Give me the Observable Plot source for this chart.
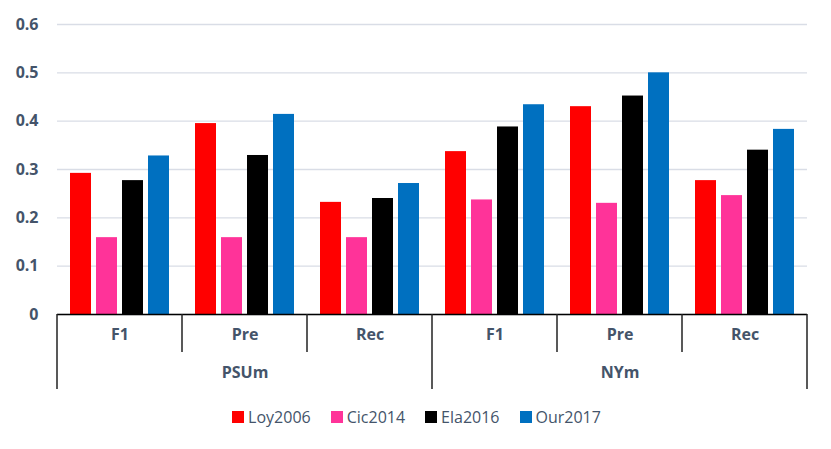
<!DOCTYPE html>
<html><head><meta charset="utf-8">
<script src="https://cdn.jsdelivr.net/npm/d3@7"></script>
<script src="https://cdn.jsdelivr.net/npm/@observablehq/plot@0.6"></script>
<style>
body{margin:0;background:#fff;font-family:"Open Sans",sans-serif}
#legend{display:flex;justify-content:center;align-items:center;margin-top:7px;padding-left:2px;color:#44546a;font-size:16px;height:20px}
.item{display:flex;align-items:center;margin:0 10px}
.sw{width:12px;height:12px;margin-right:4px}
</style>
</head><body><div id="chart"></div><div id="legend"></div>
<script>
const datasets = ["PSUm", "NYm"];
const metrics = ["F1", "Pre", "Rec"];
const methods = ["Loy2006", "Cic2014", "Ela2016", "Our2017"];
const colors = ["#ff0000", "#ff3399", "#000000", "#0070c0"];
// values per group in order PSUm F1, Pre, Rec, NYm F1, Pre, Rec
const loy2006 = [0.292, 0.395, 0.232, 0.337, 0.430, 0.277];
const cic2014 = [0.159, 0.159, 0.159, 0.237, 0.230, 0.246];
const ela2016 = [0.277, 0.329, 0.240, 0.388, 0.452, 0.340];
const our2017 = [0.328, 0.414, 0.271, 0.434, 0.500, 0.383];
const yTicks = [0, 0.1, 0.2, 0.3, 0.4, 0.5, 0.6];

const series = [loy2006, cic2014, ela2016, our2017];
const groups = [];
datasets.forEach(d => metrics.forEach(m => groups.push({key: d + "|" + m, dataset: d, metric: m})));
const rows = [];
groups.forEach((g, i) => methods.forEach((m, j) => rows.push({group: g.key, method: m, value: series[j][i]})));

const chart = Plot.plot({
  width: 831, height: 400,
  marginLeft: 57, marginRight: 24, marginTop: 24, marginBottom: 86,
  style: {fontFamily: "Open Sans, sans-serif", fontSize: "16px", color: "#44546a", overflow: "visible", background: "#fff"},
  fx: {domain: groups.map(g => g.key), padding: 0, axis: null, label: null},
  x: {domain: methods, paddingInner: 0.185, paddingOuter: 0.41, axis: null, label: null},
  y: {domain: [0, 0.6], axis: null, label: null},
  color: {domain: methods, range: colors},
  marks: [
    Plot.gridY(yTicks, {stroke: "#d9dde6", strokeOpacity: 1, strokeWidth: 1.3}),
    Plot.axisY(yTicks, {tickSize: 0, tickPadding: 19, label: null, fontWeight: "bold", fill: "#44546a", tickFormat: d => d === 0 ? "0" : d.toFixed(1)}),
    Plot.barY(rows, {fx: "group", x: "method", y: "value", fill: "method"}),
    Plot.ruleY([0], {stroke: "#000", strokeWidth: 1.6}),
    Plot.text(groups, {fx: "key", text: "metric", frameAnchor: "bottom", dy: 25, fontWeight: "bold", fill: "#44546a"}),
    Plot.text(datasets, {fx: d => d + "|Pre", text: d => d, frameAnchor: "bottom", dy: 63, fontWeight: "bold", fill: "#44546a"})
  ]
});
document.getElementById("chart").appendChild(chart);

// hierarchical category separators, positioned from Plot's own scales
const fxs = chart.scale("fx");
const y0 = chart.scale("y").apply(0);
const svg = d3.select(chart);
const edges = groups.map((g, i) => ({x: fxs.apply(g.key), long: i % 3 === 0}));
edges.push({x: fxs.apply(groups[groups.length - 1].key) + fxs.bandwidth, long: true});
svg.append("g").selectAll("line").data(edges).join("line")
  .attr("x1", d => d.x).attr("x2", d => d.x)
  .attr("y1", y0).attr("y2", d => y0 + (d.long ? 75 : 38))
  .attr("stroke", "#222").attr("stroke-width", 1.5);

const legend = d3.select("#legend");
methods.forEach((m, i) => {
  const it = legend.append("div").attr("class", "item");
  it.append("div").attr("class", "sw").style("background", colors[i]);
  it.append("span").text(m);
});
</script>
</body></html>
